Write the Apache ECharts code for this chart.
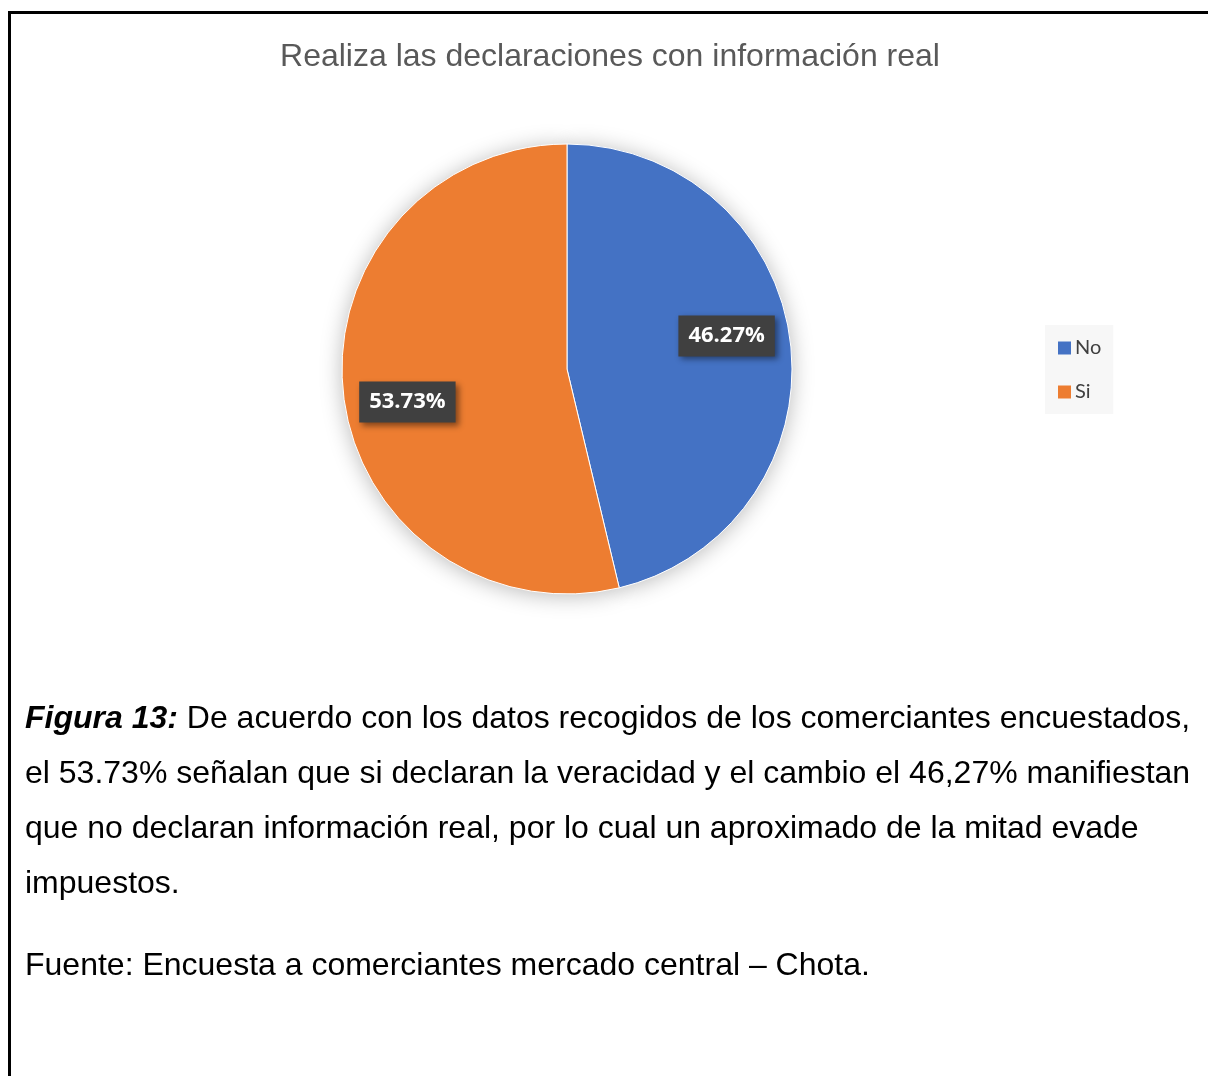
<!DOCTYPE html>
<html>
<head>
<meta charset="utf-8">
<script src="https://cdn.jsdelivr.net/npm/echarts@6/dist/echarts.min.js"></script>
<style>
  html, body { margin: 0; padding: 0; background: #fff; }
  #chart { width: 1208px; height: 1076px; }
</style>
</head>
<body>
<div id="chart"></div>
<script>
// datos del grafico
const categories = ['No', 'Si']
const percents = [46.27, 53.73]
const colors = ['#4472C4', '#ED7D31']
const titleText = 'Realiza las declaraciones con información real'
const captionLines = [
  'De acuerdo con los datos recogidos de los comerciantes encuestados,',
  'el 53.73% señalan que si declaran la veracidad y el cambio el 46,27% manifiestan',
  'que no declaran información real, por lo cual un aproximado de la mitad evade',
  'impuestos.'
]
const sourceText = 'Fuente: Encuesta a comerciantes mercado central – Chota.'

const pieData = categories.map((name, i) => ({
  name: name,
  value: percents[i],
  itemStyle: { color: colors[i] }
}))

const chart = echarts.init(document.getElementById('chart'))

const captionFont = 'Liberation Sans, Arial, sans-serif'
const captionSize = 32
const textEls = captionLines.map((line, i) => ({
  type: 'text',
  left: 25,
  top: 703 + i * 55,
  style: i === 0 ? {
    text: '{b|Figura 13:} ' + line,
    rich: {
      b: { fontWeight: 'bold', fontStyle: 'italic', fontSize: captionSize, fontFamily: captionFont, fill: '#000' }
    },
    fontSize: captionSize,
    fontFamily: captionFont,
    fill: '#000'
  } : {
    text: line,
    fontSize: captionSize,
    fontFamily: captionFont,
    fill: '#000'
  }
}))
textEls.push({
  type: 'text',
  left: 25,
  top: 950,
  style: { text: sourceText, fontSize: captionSize, fontFamily: captionFont, fill: '#000' }
})

const option = {
  animation: false,
  title: {
    text: titleText,
    left: 605,
    top: 36,
    textAlign: 'center',
    textStyle: {
      fontFamily: captionFont,
      fontSize: 32,
      fontWeight: 'normal',
      color: '#595959'
    }
  },
  legend: {
    orient: 'vertical',
    left: 1045,
    top: 325,
    data: categories,
    backgroundColor: '#f7f7f7',
    padding: [13, 12, 12, 13],
    itemGap: 24,
    itemWidth: 13,
    itemHeight: 13,
    itemStyle: { borderWidth: 0 },
    icon: 'rect',
    textStyle: { fontFamily: 'Lato, Open Sans, sans-serif', fontSize: 20, color: '#404040', padding: [0, 0, 0, -1] }
  },
  graphic: [
    { type: 'rect', shape: { x: 8, y: 11, width: 1210, height: 3 }, style: { fill: '#000' } },
    { type: 'rect', shape: { x: 8, y: 11, width: 3, height: 1080 }, style: { fill: '#000' } }
  ].concat(textEls),
  series: [
    {
      type: 'pie',
      center: [567, 369],
      radius: [0, 225],
      startAngle: 90,
      z: 2,
      label: { show: false },
      labelLine: { show: false },
      itemStyle: { borderColor: '#fff', borderWidth: 1 },
      data: pieData
    },
    {
      // sombra debajo del pastel
      type: 'pie',
      silent: true,
      center: [567, 369],
      radius: [0, 225],
      startAngle: 90,
      z: 1,
      label: { show: false },
      labelLine: { show: false },
      itemStyle: { color: '#fff', shadowBlur: 22, shadowColor: 'rgba(0,0,0,0.28)', shadowOffsetY: 2 },
      data: pieData.map(d => ({ name: d.name, value: d.value }))
    },
    {
      // solo etiquetas
      type: 'pie',
      silent: true,
      center: [567, 369],
      radius: [95, 225],
      startAngle: 95,
      z: 3,
      itemStyle: { color: 'rgba(0,0,0,0)' },
      label: {
        show: true,
        position: 'inside',
        formatter: p => p.value.toFixed(2) + '%',
        fontFamily: 'Open Sans, Lato, sans-serif',
        fontWeight: 'bold',
        fontSize: 22,
        color: '#fff',
        backgroundColor: '#404040',
        padding: [10, 10, 9, 10],
        shadowBlur: 6,
        shadowColor: 'rgba(0,0,0,0.45)',
        shadowOffsetX: 3,
        shadowOffsetY: 3
      },
      labelLine: { show: false },
      data: pieData.map(d => ({ name: d.name, value: d.value }))
    }
  ]
}

chart.setOption(option)
</script>
</body>
</html>
